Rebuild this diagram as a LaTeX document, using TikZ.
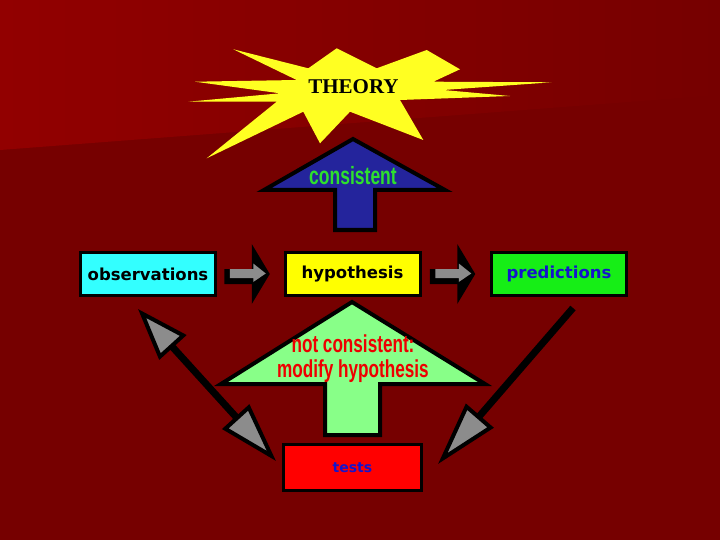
\documentclass[tikz,border=0pt]{standalone}
\usepackage{fontspec}
\setmainfont{Liberation Serif}
\newfontfamily\boxfont{DejaVu Sans}
\newfontfamily\narrowfont{Liberation Sans}[FakeStretch=0.7]
\usetikzlibrary{arrows.meta,calc}
\definecolor{bgdark}{HTML}{760000}
\definecolor{bglight}{HTML}{920000}
\definecolor{staryellow}{HTML}{FFFF22}
\definecolor{arrowblue}{HTML}{24249C}
\definecolor{conggreen}{HTML}{2EE02E}
\definecolor{lightgreen}{HTML}{88FF88}
\definecolor{textred}{HTML}{EE0000}
\definecolor{boxcyan}{HTML}{33FFFF}
\definecolor{boxyellow}{HTML}{FFFF00}
\definecolor{boxgreen}{HTML}{16EE16}
\definecolor{boxred}{HTML}{FF0000}
\definecolor{textblue}{HTML}{1414CC}
\definecolor{arrowgray}{HTML}{8C8C8C}
\begin{document}
\begin{tikzpicture}[x=1pt,y=-1pt,
  box/.style={draw=black,line width=3pt,minimum width=135pt,minimum height=43pt,inner sep=0pt,
    font=\boxfont\bfseries\fontsize{16.5}{20}\selectfont},
  blockline/.style={draw=black,line width=4pt,line join=miter},
  narrowtext/.style={font=\narrowfont\bfseries\fontsize{25}{28}\selectfont,inner sep=0pt,align=center},
  diag/.style={draw=black,line width=7pt},
  rowarrow/.pic={
    \fill[black] (-22.5,-4) -- (5,-4) -- (5,-29) -- (23,1) -- (5,31) -- (5,11) -- (-22.5,11) -- cycle;
    \fill[arrowgray] (-17,-4) -- (6.5,-4) -- (6.5,-9.5) -- (19,0.5) -- (6.5,9) -- (6.5,5) -- (-17,5) -- cycle;
  }]
\useasboundingbox (0,0) rectangle (720,540);
% background
\fill[bgdark] (0,0) rectangle (720,540);
\shade[left color=bglight,right color=bgdark] (0,0) -- (720,0) -- (720,95) -- (0,150) -- cycle;
% theory star
\fill[staryellow] (233.3,49.3) -- (308.3,68.3) -- (336.7,48.3) -- (376.7,68.3) -- (426.7,50)
  -- (460,69.3) -- (433.3,81.7) -- (551.7,82.3) -- (443.3,90) -- (510,96) -- (400,100)
  -- (423.3,140) -- (350,111.7) -- (320,143.3) -- (303.3,111.7) -- (206.7,158.3)
  -- (276.7,101.7) -- (188.3,101.7) -- (280,93.3) -- (195,81.7) -- (296.7,80) -- cycle;
\node[font=\bfseries\fontsize{21}{24}\selectfont,inner sep=0pt] (theory) at (353.5,87) {THEORY};
% consistent arrow
\filldraw[blockline,fill=arrowblue] (353,139) -- (445,190) -- (375,190) -- (375,230) -- (335,230)
  -- (335,190) -- (264,190) -- cycle;
\node[narrowtext,text=conggreen] (cons) at (353,176) {consistent};
% boxes
\node[box,fill=boxcyan] (obs) at (148,274) {observations};
\node[box,fill=boxyellow] (hyp) at (352.5,274) {hypothesis};
\node[box,fill=boxgreen,text=textblue] (pred) at (559,274) {predictions};
\node[box,fill=boxred,text=textblue,minimum width=138pt,minimum height=46pt,
  font=\boxfont\bfseries\fontsize{14}{17}\selectfont] (tests) at (352.5,467.5) {tests};
% row arrows
\pic at ($($(obs.east)!0.5!(hyp.west)$)+(-3.5,-1)$) {rowarrow};
\pic at ($($(hyp.east)!0.5!(pred.west)$)+(-3.5,-1)$) {rowarrow};
% not consistent arrow
\filldraw[blockline,fill=lightgreen] (352,302) -- (485,384) -- (380,384) -- (380,435) -- (325,435)
  -- (325,384) -- (221,384) -- cycle;
\node[narrowtext,text=textred,font=\narrowfont\bfseries\fontsize{24.5}{26}\selectfont] (notcons) at (353,359)
  {not consistent:\\[-1pt]modify hypothesis};
% diagonal arrows
\coordinate (la1) at (138,309);
\coordinate (la2) at (276,461);
\coordinate (ra1) at (573,308);
\coordinate (ra2) at (438,464);
\draw[diag,{Triangle[length=52pt,width=36pt,line width=4pt,fill=arrowgray]}-{Triangle[length=60pt,width=36pt,line width=4pt,fill=arrowgray]}] (la1) -- (la2);
\draw[diag,-{Triangle[length=64pt,width=36pt,line width=4pt,fill=arrowgray]}] (ra1) -- (ra2);
\end{tikzpicture}
\end{document}
